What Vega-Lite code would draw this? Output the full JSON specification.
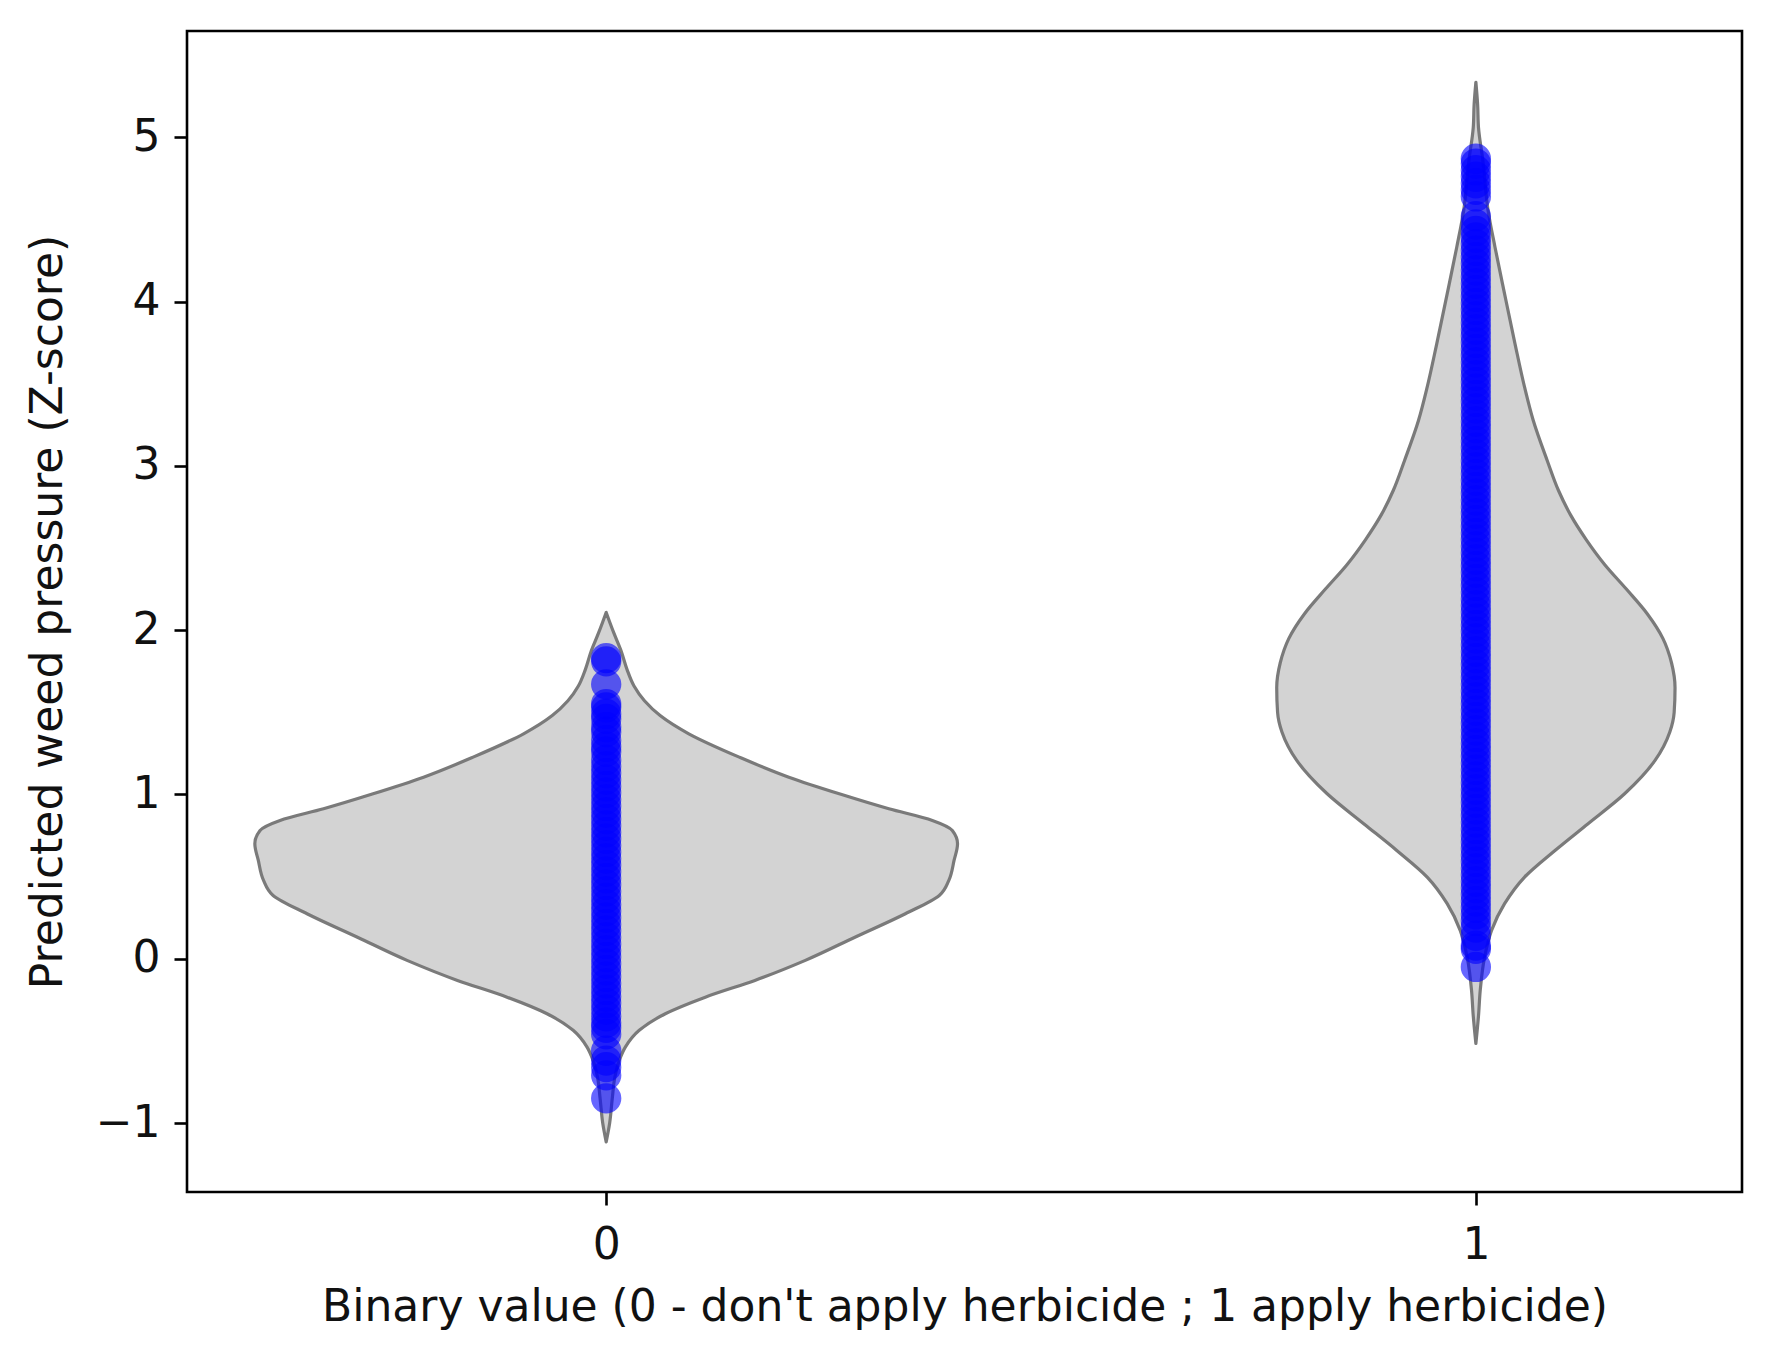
{
  "$schema": "https://vega.github.io/schema/vega-lite/v6.json",
  "width": 1555,
  "height": 1161,
  "autosize": {"type": "none"},
  "padding": {"left": 187, "top": 31, "right": 31, "bottom": 160},
  "background": "white",
  "config": {
    "font": "DejaVu Sans",
    "view": {"stroke": "black", "strokeWidth": 2.6},
    "axis": {
      "domain": false,
      "grid": false,
      "ticks": true,
      "tickColor": "black",
      "tickWidth": 2.6,
      "tickSize": 13,
      "labelFont": "DejaVu Sans",
      "labelFontSize": 44,
      "labelColor": "#111111",
      "titleFont": "DejaVu Sans",
      "titleFontSize": 44,
      "titleFontWeight": "normal",
      "titleColor": "#111111"
    }
  },
  "datasets": {
    "violin": [
      {"group": 0, "v": 2.108, "xl": 0.0, "xr": 0.0},
      {"group": 0, "v": 2.05, "xl": -0.004, "xr": 0.004},
      {"group": 0, "v": 1.98, "xl": -0.009, "xr": 0.009},
      {"group": 0, "v": 1.876, "xl": -0.017, "xr": 0.017},
      {"group": 0, "v": 1.76, "xl": -0.024, "xr": 0.024},
      {"group": 0, "v": 1.66, "xl": -0.032, "xr": 0.032},
      {"group": 0, "v": 1.57, "xl": -0.044, "xr": 0.044},
      {"group": 0, "v": 1.48, "xl": -0.062, "xr": 0.062},
      {"group": 0, "v": 1.369, "xl": -0.095, "xr": 0.095},
      {"group": 0, "v": 1.227, "xl": -0.153, "xr": 0.153},
      {"group": 0, "v": 1.105, "xl": -0.21, "xr": 0.21},
      {"group": 0, "v": 1.004, "xl": -0.268, "xr": 0.268},
      {"group": 0, "v": 0.913, "xl": -0.325, "xr": 0.325},
      {"group": 0, "v": 0.842, "xl": -0.375, "xr": 0.375},
      {"group": 0, "v": 0.781, "xl": -0.398, "xr": 0.398},
      {"group": 0, "v": 0.70, "xl": -0.404, "xr": 0.404},
      {"group": 0, "v": 0.598, "xl": -0.40, "xr": 0.40},
      {"group": 0, "v": 0.477, "xl": -0.394, "xr": 0.394},
      {"group": 0, "v": 0.385, "xl": -0.383, "xr": 0.383},
      {"group": 0, "v": 0.274, "xl": -0.344, "xr": 0.344},
      {"group": 0, "v": 0.131, "xl": -0.286, "xr": 0.286},
      {"group": 0, "v": -0.01, "xl": -0.229, "xr": 0.229},
      {"group": 0, "v": -0.132, "xl": -0.171, "xr": 0.171},
      {"group": 0, "v": -0.234, "xl": -0.114, "xr": 0.114},
      {"group": 0, "v": -0.335, "xl": -0.068, "xr": 0.068},
      {"group": 0, "v": -0.436, "xl": -0.038, "xr": 0.038},
      {"group": 0, "v": -0.538, "xl": -0.022, "xr": 0.022},
      {"group": 0, "v": -0.62, "xl": -0.015, "xr": 0.015},
      {"group": 0, "v": -0.72, "xl": -0.01, "xr": 0.01},
      {"group": 0, "v": -0.85, "xl": -0.007, "xr": 0.007},
      {"group": 0, "v": -1.0, "xl": -0.004, "xr": 0.004},
      {"group": 0, "v": -1.115, "xl": 0.0, "xr": 0.0},
      {"group": 1, "v": 5.335, "xl": 1.0, "xr": 1.0},
      {"group": 1, "v": 5.2, "xl": 0.998, "xr": 1.002},
      {"group": 1, "v": 5.061, "xl": 0.997, "xr": 1.003},
      {"group": 1, "v": 4.859, "xl": 0.992, "xr": 1.008},
      {"group": 1, "v": 4.555, "xl": 0.986, "xr": 1.014},
      {"group": 1, "v": 4.331, "xl": 0.978, "xr": 1.022},
      {"group": 1, "v": 4.047, "xl": 0.967, "xr": 1.033},
      {"group": 1, "v": 3.743, "xl": 0.955, "xr": 1.045},
      {"group": 1, "v": 3.479, "xl": 0.944, "xr": 1.056},
      {"group": 1, "v": 3.276, "xl": 0.934, "xr": 1.066},
      {"group": 1, "v": 3.033, "xl": 0.918, "xr": 1.082},
      {"group": 1, "v": 2.85, "xl": 0.905, "xr": 1.095},
      {"group": 1, "v": 2.70, "xl": 0.891, "xr": 1.109},
      {"group": 1, "v": 2.55, "xl": 0.873, "xr": 1.127},
      {"group": 1, "v": 2.40, "xl": 0.852, "xr": 1.148},
      {"group": 1, "v": 2.25, "xl": 0.827, "xr": 1.173},
      {"group": 1, "v": 2.10, "xl": 0.803, "xr": 1.197},
      {"group": 1, "v": 1.95, "xl": 0.785, "xr": 1.215},
      {"group": 1, "v": 1.80, "xl": 0.775, "xr": 1.225},
      {"group": 1, "v": 1.65, "xl": 0.771, "xr": 1.229},
      {"group": 1, "v": 1.50, "xl": 0.772, "xr": 1.228},
      {"group": 1, "v": 1.38, "xl": 0.777, "xr": 1.223},
      {"group": 1, "v": 1.207, "xl": 0.794, "xr": 1.206},
      {"group": 1, "v": 1.004, "xl": 0.829, "xr": 1.171},
      {"group": 1, "v": 0.822, "xl": 0.871, "xr": 1.129},
      {"group": 1, "v": 0.659, "xl": 0.909, "xr": 1.091},
      {"group": 1, "v": 0.497, "xl": 0.944, "xr": 1.056},
      {"group": 1, "v": 0.335, "xl": 0.967, "xr": 1.033},
      {"group": 1, "v": 0.172, "xl": 0.982, "xr": 1.018},
      {"group": 1, "v": 0.01, "xl": 0.99, "xr": 1.01},
      {"group": 1, "v": -0.193, "xl": 0.995, "xr": 1.005},
      {"group": 1, "v": -0.35, "xl": 0.997, "xr": 1.003},
      {"group": 1, "v": -0.516, "xl": 1.0, "xr": 1.0}
    ],
    "points": [
      {"group": 0, "value": 1.83}, {"group": 0, "value": 1.81}, {"group": 0, "value": 1.67},
      {"group": 0, "value": 1.55}, {"group": 0, "value": 1.53}, {"group": 0, "value": 1.49},
      {"group": 0, "value": 1.46}, {"group": 0, "value": 1.41}, {"group": 0, "value": 1.38},
      {"group": 0, "value": 1.33}, {"group": 0, "value": 1.29}, {"group": 0, "value": 1.26},
      {"group": 0, "value": 1.21}, {"group": 0, "value": 1.17}, {"group": 0, "value": 1.13},
      {"group": 0, "value": 1.09}, {"group": 0, "value": 1.05}, {"group": 0, "value": 1.01},
      {"group": 0, "value": 0.97}, {"group": 0, "value": 0.93}, {"group": 0, "value": 0.89},
      {"group": 0, "value": 0.85}, {"group": 0, "value": 0.81}, {"group": 0, "value": 0.77},
      {"group": 0, "value": 0.73}, {"group": 0, "value": 0.69}, {"group": 0, "value": 0.65},
      {"group": 0, "value": 0.61}, {"group": 0, "value": 0.57}, {"group": 0, "value": 0.53},
      {"group": 0, "value": 0.49}, {"group": 0, "value": 0.45}, {"group": 0, "value": 0.41},
      {"group": 0, "value": 0.37}, {"group": 0, "value": 0.33}, {"group": 0, "value": 0.29},
      {"group": 0, "value": 0.25}, {"group": 0, "value": 0.21}, {"group": 0, "value": 0.17},
      {"group": 0, "value": 0.13}, {"group": 0, "value": 0.09}, {"group": 0, "value": 0.05},
      {"group": 0, "value": 0.01}, {"group": 0, "value": -0.03}, {"group": 0, "value": -0.07},
      {"group": 0, "value": -0.11}, {"group": 0, "value": -0.15}, {"group": 0, "value": -0.19},
      {"group": 0, "value": -0.23}, {"group": 0, "value": -0.27}, {"group": 0, "value": -0.31},
      {"group": 0, "value": -0.35}, {"group": 0, "value": -0.39}, {"group": 0, "value": -0.42},
      {"group": 0, "value": -0.46}, {"group": 0, "value": -0.56}, {"group": 0, "value": -0.62},
      {"group": 0, "value": -0.66}, {"group": 0, "value": -0.71}, {"group": 0, "value": -0.85},
      {"group": 1, "value": -0.05}, {"group": 1, "value": 0.06}, {"group": 1, "value": 0.08},
      {"group": 1, "value": 0.14}, {"group": 1, "value": 0.19}, {"group": 1, "value": 0.23},
      {"group": 1, "value": 0.27}, {"group": 1, "value": 0.31}, {"group": 1, "value": 0.35},
      {"group": 1, "value": 0.39}, {"group": 1, "value": 0.43}, {"group": 1, "value": 0.47},
      {"group": 1, "value": 0.51}, {"group": 1, "value": 0.55}, {"group": 1, "value": 0.59},
      {"group": 1, "value": 0.63}, {"group": 1, "value": 0.67}, {"group": 1, "value": 0.71},
      {"group": 1, "value": 0.75}, {"group": 1, "value": 0.79}, {"group": 1, "value": 0.83},
      {"group": 1, "value": 0.87}, {"group": 1, "value": 0.91}, {"group": 1, "value": 0.95},
      {"group": 1, "value": 0.99}, {"group": 1, "value": 1.03}, {"group": 1, "value": 1.07},
      {"group": 1, "value": 1.11}, {"group": 1, "value": 1.15}, {"group": 1, "value": 1.19},
      {"group": 1, "value": 1.23}, {"group": 1, "value": 1.27}, {"group": 1, "value": 1.31},
      {"group": 1, "value": 1.35}, {"group": 1, "value": 1.39}, {"group": 1, "value": 1.43},
      {"group": 1, "value": 1.47}, {"group": 1, "value": 1.51}, {"group": 1, "value": 1.55},
      {"group": 1, "value": 1.59}, {"group": 1, "value": 1.63}, {"group": 1, "value": 1.67},
      {"group": 1, "value": 1.71}, {"group": 1, "value": 1.75}, {"group": 1, "value": 1.79},
      {"group": 1, "value": 1.83}, {"group": 1, "value": 1.87}, {"group": 1, "value": 1.91},
      {"group": 1, "value": 1.95}, {"group": 1, "value": 1.99}, {"group": 1, "value": 2.03},
      {"group": 1, "value": 2.07}, {"group": 1, "value": 2.11}, {"group": 1, "value": 2.15},
      {"group": 1, "value": 2.19}, {"group": 1, "value": 2.23}, {"group": 1, "value": 2.27},
      {"group": 1, "value": 2.31}, {"group": 1, "value": 2.35}, {"group": 1, "value": 2.39},
      {"group": 1, "value": 2.43}, {"group": 1, "value": 2.47}, {"group": 1, "value": 2.51},
      {"group": 1, "value": 2.55}, {"group": 1, "value": 2.59}, {"group": 1, "value": 2.63},
      {"group": 1, "value": 2.67}, {"group": 1, "value": 2.71}, {"group": 1, "value": 2.75},
      {"group": 1, "value": 2.79}, {"group": 1, "value": 2.83}, {"group": 1, "value": 2.87},
      {"group": 1, "value": 2.91}, {"group": 1, "value": 2.95}, {"group": 1, "value": 2.99},
      {"group": 1, "value": 3.03}, {"group": 1, "value": 3.07}, {"group": 1, "value": 3.11},
      {"group": 1, "value": 3.15}, {"group": 1, "value": 3.19}, {"group": 1, "value": 3.23},
      {"group": 1, "value": 3.27}, {"group": 1, "value": 3.31}, {"group": 1, "value": 3.35},
      {"group": 1, "value": 3.39}, {"group": 1, "value": 3.43}, {"group": 1, "value": 3.47},
      {"group": 1, "value": 3.51}, {"group": 1, "value": 3.55}, {"group": 1, "value": 3.59},
      {"group": 1, "value": 3.63}, {"group": 1, "value": 3.67}, {"group": 1, "value": 3.71},
      {"group": 1, "value": 3.75}, {"group": 1, "value": 3.79}, {"group": 1, "value": 3.83},
      {"group": 1, "value": 3.87}, {"group": 1, "value": 3.91}, {"group": 1, "value": 3.95},
      {"group": 1, "value": 3.99}, {"group": 1, "value": 4.03}, {"group": 1, "value": 4.07},
      {"group": 1, "value": 4.11}, {"group": 1, "value": 4.15}, {"group": 1, "value": 4.19},
      {"group": 1, "value": 4.23}, {"group": 1, "value": 4.27}, {"group": 1, "value": 4.31},
      {"group": 1, "value": 4.35}, {"group": 1, "value": 4.39}, {"group": 1, "value": 4.43},
      {"group": 1, "value": 4.47}, {"group": 1, "value": 4.52}, {"group": 1, "value": 4.64},
      {"group": 1, "value": 4.68}, {"group": 1, "value": 4.72}, {"group": 1, "value": 4.76},
      {"group": 1, "value": 4.80}, {"group": 1, "value": 4.84}, {"group": 1, "value": 4.87}
    ]
  },
  "layer": [
    {
      "data": {"name": "violin"},
      "mark": {
        "type": "area",
        "orient": "horizontal",
        "interpolate": "monotone",
        "fill": "#d3d3d3",
        "stroke": "#7a7a7a",
        "strokeWidth": 3.2,
        "strokeJoin": "round"
      },
      "encoding": {
        "y": {
          "field": "v",
          "type": "quantitative",
          "scale": {"domain": [-1.42, 5.647], "nice": false, "zero": false},
          "axis": {
            "values": [-1, 0, 1, 2, 3, 4, 5],
            "labelExpr": "datum.value < 0 ? '\u2212' + abs(datum.value) : '' + datum.value",
            "labelPadding": 14,
            "title": "Predicted weed pressure (Z-score)",
            "titlePadding": 25
          }
        },
        "x": {
          "field": "xl",
          "type": "quantitative",
          "scale": {"domain": [-0.482, 1.306], "nice": false, "zero": false},
          "axis": {
            "values": [0, 1],
            "format": "d",
            "labelPadding": 18,
            "title": "Binary value (0 - don't apply herbicide ; 1 apply herbicide)",
            "titlePadding": 18
          }
        },
        "x2": {"field": "xr"},
        "detail": {"field": "group", "type": "nominal"}
      }
    },
    {
      "data": {"name": "points"},
      "mark": {"type": "point", "shape": "circle", "filled": true, "color": "#0000ff", "opacity": 0.6, "size": 920},
      "encoding": {
        "x": {"field": "group", "type": "quantitative"},
        "y": {"field": "value", "type": "quantitative"}
      }
    }
  ]
}
